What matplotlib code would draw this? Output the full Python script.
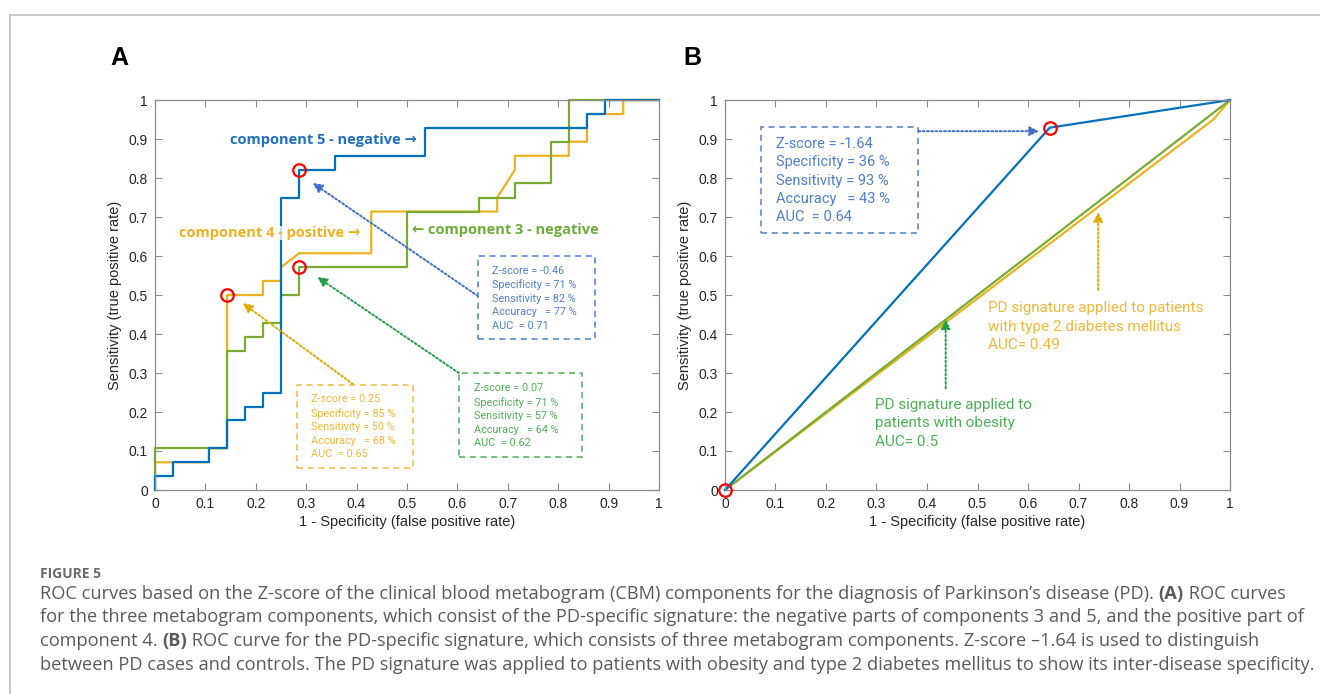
import matplotlib
matplotlib.use("Agg")
import matplotlib.pyplot as plt
from matplotlib.patches import Rectangle
from matplotlib.lines import Line2D

# ---- data ----
# Panel A: ROC curves of the three metabogram components (vertices of the curves)
comp5_fpr = [0, 0, 0.036, 0.036, 0.107, 0.107, 0.143, 0.143, 0.179, 0.179, 0.214, 0.214,
             0.25, 0.25, 0.286, 0.286, 0.357, 0.357, 0.536, 0.536, 0.857, 0.857, 0.893, 0.893, 1]
comp5_tpr = [0, 0.036, 0.036, 0.071, 0.071, 0.107, 0.107, 0.179, 0.179, 0.214, 0.214, 0.25,
             0.25, 0.75, 0.75, 0.821, 0.821, 0.857, 0.857, 0.929, 0.929, 0.964, 0.964, 1, 1]

comp4_fpr = [0, 0, 0.107, 0.107, 0.143, 0.143, 0.214, 0.214, 0.25, 0.25, 0.286, 0.429, 0.429,
             0.679, 0.679, 0.714, 0.714, 0.821, 0.821, 0.857, 0.857, 0.929, 0.929, 1]
comp4_tpr = [0, 0.071, 0.071, 0.107, 0.107, 0.5, 0.5, 0.536, 0.536, 0.571, 0.607, 0.607, 0.714,
             0.714, 0.75, 0.821, 0.857, 0.857, 0.893, 0.893, 0.964, 0.964, 1, 1]

comp3_fpr = [0, 0, 0.143, 0.143, 0.179, 0.179, 0.214, 0.214, 0.25, 0.25, 0.286, 0.286, 0.5, 0.5,
             0.643, 0.643, 0.714, 0.714, 0.786, 0.786, 0.821, 0.821, 1]
comp3_tpr = [0, 0.107, 0.107, 0.357, 0.357, 0.393, 0.393, 0.429, 0.429, 0.5, 0.5, 0.571, 0.571,
             0.714, 0.714, 0.75, 0.75, 0.786, 0.786, 0.893, 0.893, 1, 1]

# cut-off points (red circles)
cut_fpr = [0.286, 0.143, 0.286]
cut_tpr = [0.821, 0.5, 0.571]

# Panel B: PD signature
sig_fpr = [0, 0.643, 1]
sig_tpr = [0, 0.929, 1]
obes_fpr = [0, 1]
obes_tpr = [0, 1]
dm_fpr = [0, 0.967, 1]
dm_tpr = [0, 0.95, 1]
sig_cut_fpr = [0, 0.643]
sig_cut_tpr = [0, 0.929]

ticks = [0, 0.1, 0.2, 0.3, 0.4, 0.5, 0.6, 0.7, 0.8, 0.9, 1]
tick_labels = ["0", "0.1", "0.2", "0.3", "0.4", "0.5", "0.6", "0.7", "0.8", "0.9", "1"]

box5 = ["Z-score = -0.46", "Specificity = 71 %", "Sensitivity = 82 %", "Accuracy   = 77 %", "AUC  = 0.71"]
box3 = ["Z-score = 0.07", "Specificity = 71 %", "Sensitivity = 57 %", "Accuracy   = 64 %", "AUC  = 0.62"]
box4 = ["Z-score = 0.25", "Specificity = 85 %", "Sensitivity = 50 %", "Accuracy   = 68 %", "AUC  = 0.65"]
boxB = ["Z-score = -1.64", "Specificity = 36 %", "Sensitivity = 93 %", "Accuracy   = 43 %", "AUC  = 0.64"]

# colours
BLUE = "#0072BD"
ORANGE = "#EDB120"
GREEN = "#77AC30"
BLUE_T = "#4F7FCF"
ORANGE_T = "#F2B83C"
GREEN_T = "#4DB055"
GRAY = "#8c8c8c"
LABEL_FONT = ["Open Sans", "DejaVu Sans"]

W, H = 1320, 694
fig = plt.figure(figsize=(W / 100, H / 100), dpi=100)
fig.patch.set_facecolor("white")

# page frame
fig.add_artist(Line2D([9.5 / W, 1], [1 - 15 / H, 1 - 15 / H], color="#c4c4c4", lw=1.3))
fig.add_artist(Line2D([9.5 / W, 9.5 / W], [0, 1 - 15 / H], color="#c4c4c4", lw=1.3))


def setup_axes(left_px, right_px):
    ax = fig.add_axes([left_px / W, (H - 490) / H, (right_px - left_px) / W, 390 / H])
    ax.set_xlim(0, 1)
    ax.set_ylim(0, 1)
    ax.set_xticks(ticks)
    ax.set_yticks(ticks)
    ax.set_xticklabels(tick_labels, fontfamily="Liberation Sans", fontsize=10, color="#262626")
    ax.set_yticklabels(tick_labels, fontfamily="Liberation Sans", fontsize=10, color="#262626")
    ax.tick_params(direction="in", top=True, right=True, length=5, width=0.8, color=GRAY, pad=5)
    for s in ax.spines.values():
        s.set_color(GRAY)
        s.set_linewidth(0.9)
    ax.set_xlabel("1 - Specificity (false positive rate)", fontfamily="Liberation Sans",
                  fontsize=10.5, color="#262626", labelpad=3)
    ax.set_ylabel("Sensitivity (true positive rate)", fontfamily="Liberation Sans",
                  fontsize=10.5, color="#262626", labelpad=5)
    return ax


def info_box(ax, x0, y0, x1, y1, tx, ty_list, lines, color, size):
    ax.add_patch(Rectangle((x0, y1), x1 - x0, y0 - y1, fill=True, fc="white", ec=color,
                           ls=(0, (4, 3)), lw=1.1, zorder=5))
    for ty, s in zip(ty_list, lines):
        ax.text(tx, ty, s, color=color, fontsize=size, fontfamily="Roboto",
                va="center", ha="left", zorder=6)


def dotted_arrow(ax, start, end, color):
    ax.annotate("", xy=end, xytext=start,
                arrowprops=dict(arrowstyle="-|>", color=color, lw=1.4, linestyle=(0, (1, 1.2)),
                                mutation_scale=14, shrinkA=0, shrinkB=0), zorder=4)


# ---- Panel A ----
axA = setup_axes(155, 659)
axA.plot(comp4_fpr, comp4_tpr, color=ORANGE, lw=1.6, zorder=2, clip_on=False)
axA.plot(comp3_fpr, comp3_tpr, color=GREEN, lw=1.6, zorder=2.1, clip_on=False)
axA.plot(comp5_fpr, comp5_tpr, color=BLUE, lw=1.6, zorder=2.2, clip_on=False)
axA.plot(cut_fpr, cut_tpr, "o", ms=9, mfc="none", mec="#ff0000", mew=1.6, zorder=3)

axA.text(0.149, 0.897, "component 5 - negative \u2192", color="#1F6FC3", fontsize=10.5,
         family=LABEL_FONT, fontweight="bold", va="center", zorder=4)
axA.text(0.048, 0.658, "component 4 - positive \u2192", color=ORANGE, fontsize=10.5,
         family=LABEL_FONT, fontweight="bold", va="center", zorder=4,
         bbox=dict(fc="white", ec="none", alpha=0.75, pad=0))
axA.text(0.509, 0.667, "\u2190 component 3 - negative", color="#6CAD3C", fontsize=10.5,
         family=LABEL_FONT, fontweight="bold", va="center", zorder=4)

info_box(axA, 0.641, 0.600, 0.873, 0.387, 0.668,
         [0.561, 0.527, 0.491, 0.456, 0.420], box5, BLUE_T, 7.8)
info_box(axA, 0.604, 0.299, 0.847, 0.084, 0.633,
         [0.262, 0.225, 0.190, 0.154, 0.120], box3, GREEN_T, 7.8)
info_box(axA, 0.281, 0.269, 0.512, 0.057, 0.309,
         [0.233, 0.197, 0.162, 0.126, 0.092], box4, ORANGE_T, 7.8)

dotted_arrow(axA, (0.641, 0.497), (0.313, 0.787), "#3F6FC8")
dotted_arrow(axA, (0.603, 0.300), (0.322, 0.546), "#1FA045")
dotted_arrow(axA, (0.393, 0.271), (0.174, 0.479), "#E3A800")

# ---- Panel B ----
axB = setup_axes(725, 1230)
axB.plot(dm_fpr, dm_tpr, color=ORANGE, lw=1.6, zorder=2, clip_on=False)
axB.plot(obes_fpr, obes_tpr, color=GREEN, lw=1.6, zorder=2.1, clip_on=False)
axB.plot(sig_fpr, sig_tpr, color=BLUE, lw=1.6, zorder=2.2, clip_on=False)
axB.plot(sig_cut_fpr, sig_cut_tpr, "o", ms=9, mfc="none", mec="#ff0000", mew=1.6,
         zorder=3, clip_on=False)

info_box(axB, 0.0707, 0.932, 0.383, 0.658, 0.1004,
         [0.887, 0.840, 0.793, 0.746, 0.699], boxB, BLUE_T, 10.5)
dotted_arrow(axB, (0.383, 0.920), (0.622, 0.920), "#3F6FC8")

for ty, s in zip([0.466, 0.419, 0.372],
                 ["PD signature applied to patients", "with type 2 diabetes mellitus", "AUC= 0.49"]):
    axB.text(0.521, ty, s, color=ORANGE_T, fontsize=11, fontfamily="Roboto", va="center")
dotted_arrow(axB, (0.739, 0.513), (0.739, 0.713), "#E3A800")

for ty, s in zip([0.218, 0.171, 0.124],
                 ["PD signature applied to", "patients with obesity", "AUC= 0.5"]):
    axB.text(0.298, ty, s, color=GREEN_T, fontsize=11, fontfamily="Roboto", va="center")
dotted_arrow(axB, (0.437, 0.261), (0.437, 0.438), "#1FA045")

# panel letters
fig.text(119 / W, 1 - 58 / H, "A", fontsize=18, fontweight="bold", fontfamily="Liberation Sans",
         ha="center", va="center")
fig.text(692 / W, 1 - 58 / H, "B", fontsize=18, fontweight="bold", fontfamily="Liberation Sans",
         ha="center", va="center")

# ---- caption ----
CAP = "#5a5a5a"
fig.text(40 / W, 1 - 574 / H, "FIGURE 5", fontsize=10, fontweight="bold", fontfamily="Open Sans",
         color="#6a6a6a", va="center")

cap_lines = [
    [("ROC curves based on the Z-score of the clinical blood metabogram (CBM) components for the "
      "diagnosis of Parkinson\u2019s disease (PD). ", False), ("(A)", True), (" ROC curves", False)],
    [("for the three metabogram components, which consist of the PD-specific signature: the negative "
      "parts of components 3 and 5, and the positive part of", False)],
    [("component 4. ", False), ("(B)", True),
     (" ROC curve for the PD-specific signature, which consists of three metabogram components. "
      "Z-score \u20131.64 is used to distinguish", False)],
    [("between PD cases and controls. The PD signature was applied to patients with obesity and type 2 "
      "diabetes mellitus to show its inter-disease specificity.", False)],
]
cap_y = [594, 617.5, 641, 664.5]

renderer = fig.canvas.get_renderer()


def text_width(s, size, bold):
    # measure with guard characters so surrounding spaces are counted
    t1 = fig.text(0, 0, "|" + s + "|", fontsize=size, fontfamily="Open Sans",
                  fontweight="bold" if bold else "normal")
    t2 = fig.text(0, 0, "||", fontsize=size, fontfamily="Open Sans",
                  fontweight="bold" if bold else "normal")
    w = t1.get_window_extent(renderer).width - t2.get_window_extent(renderer).width
    t1.remove()
    t2.remove()
    return w


# fit the caption size to the width of the last (full) line
base = 11.0
cap_size = base * 1278 / text_width(cap_lines[3][0][0], base, False)

for segs, py in zip(cap_lines, cap_y):
    x = 40.0
    for s, bold in segs:
        fig.text(x / W, 1 - py / H, s, fontsize=cap_size, fontfamily="Open Sans",
                 fontweight="bold" if bold else "normal", color=CAP, va="center")
        x += text_width(s, cap_size, bold)

fig.savefig("out.png", dpi=100)
plt.close(fig)
